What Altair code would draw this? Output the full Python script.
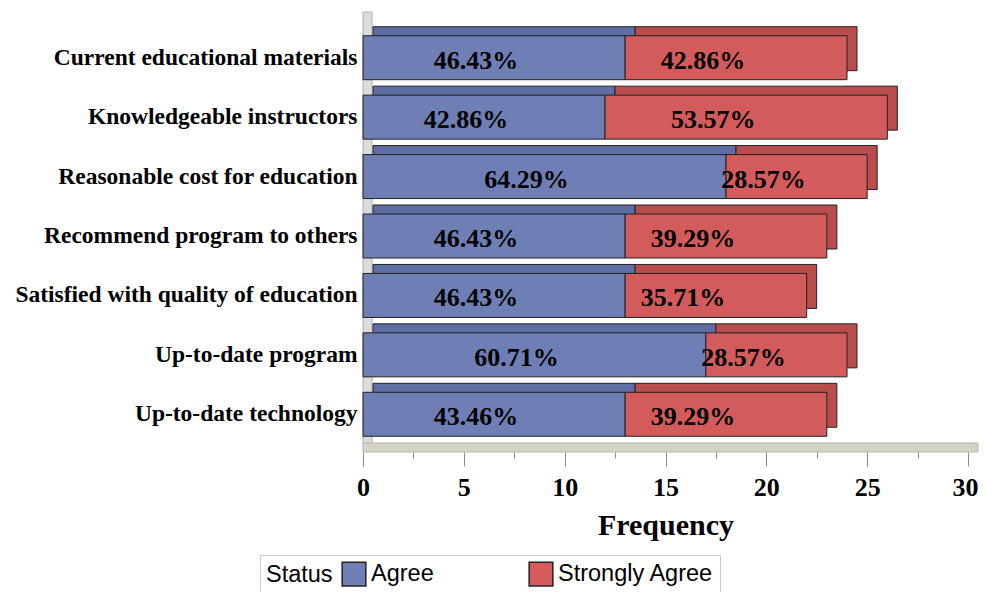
import altair as alt
import pandas as pd

categories = [
    "Current educational materials",
    "Knowledgeable instructors",
    "Reasonable cost for education",
    "Recommend program to others",
    "Satisfied with quality of education",
    "Up-to-date program",
    "Up-to-date technology",
]
agree = [13, 12, 18, 13, 13, 17, 13]
strongly = [11, 14, 7, 10, 9, 7, 10]
agree_pct = ["46.43%", "42.86%", "64.29%", "46.43%", "46.43%", "60.71%", "43.46%"]
strongly_pct = ["42.86%", "53.57%", "28.57%", "39.29%", "35.71%", "28.57%", "39.29%"]
statuses = ["Agree", "Strongly Agree"]
x_ticks = [0, 2.5, 5, 7.5, 10, 12.5, 15, 17.5, 20, 22.5, 25, 27.5, 30]

rows = []
for c, a, s, ap, sp in zip(categories, agree, strongly, agree_pct, strongly_pct):
    rows.append({"cat": c, "status": "Agree", "start": 0, "end": a, "mid": a / 2, "label": ap})
    rows.append({"cat": c, "status": "Strongly Agree", "start": a, "end": a + s, "mid": a + s / 2, "label": sp})
df = pd.DataFrame(rows)

W, H = 605, 416
front_colors = ["#6f7fb6", "#d35b5b"]
back_colors = ["#5e6da4", "#b94c4c"]
serif = "Liberation Serif"

y_enc = alt.Y(
    "cat:N",
    sort=categories,
    scale=alt.Scale(paddingInner=0.26, paddingOuter=0.13),
    axis=alt.Axis(
        title=None, domain=False, ticks=False, labelPadding=6,
        labelFont=serif, labelFontWeight="bold", labelFontSize=23.5,
        labelColor="black", labelLimit=400,
    ),
)
x_scale = alt.Scale(domain=[0, 30], nice=False)

base = alt.Chart(df)

wall = alt.Chart(pd.DataFrame({"a": [0]})).mark_rect(
    color="#dcdcdc", stroke="#b0b0b0", strokeWidth=1
).encode(x=alt.value(0), x2=alt.value(9), y=alt.value(-16), y2=alt.value(H))

floor = alt.Chart(pd.DataFrame({"a": [0]})).mark_rect(
    color="#d5d2c6", stroke="#b8b5aa", strokeWidth=1
).encode(x=alt.value(0), x2=alt.value(W + 10), y=alt.value(H - 1), y2=alt.value(H + 8))

back = base.mark_bar(
    xOffset=10, x2Offset=10, yOffset=-9, y2Offset=-9,
    stroke="#222222", strokeWidth=1,
).encode(
    y=y_enc,
    x=alt.X("start:Q", scale=x_scale),
    x2="end:Q",
    color=alt.Color("status:N", scale=alt.Scale(domain=statuses, range=back_colors), legend=None),
)

front = base.mark_bar(stroke="#222222", strokeWidth=1).encode(
    y=y_enc,
    x=alt.X(
        "start:Q",
        scale=x_scale,
        axis=alt.Axis(
            values=x_ticks,
            title="Frequency",
            titleFont=serif, titleFontSize=30, titleFontWeight="bold",
            titleColor="black", titlePadding=10,
            labelFont=serif, labelFontSize=26, labelFontWeight="bold",
            labelColor="black", labelPadding=8, labelFlush=False,
            labelAlign={"condition": {"test": "datum.value == 30", "value": "right"}, "value": "center"},
            labelOffset={"condition": {"test": "datum.value == 30", "value": 10}, "value": 0},
            labelExpr="datum.value % 5 == 0 ? datum.label : ''",
            domain=False, grid=False, offset=8,
            tickColor="#8a8a8a",
            tickSize={"condition": {"test": "datum.value % 5 == 0", "value": 14}, "value": 6},
        ),
    ),
    x2="end:Q",
    color=alt.Color(
        "status:N",
        scale=alt.Scale(domain=statuses, range=front_colors),
        legend=alt.Legend(
            title="Status", orient="none", legendX=-103, legendY=527,
            direction="horizontal", titleOrient="left",
            titleFont="Liberation Sans", titleFontSize=23.5, titleFontWeight="normal",
            titleColor="black", titlePadding=8,
            labelFont="Liberation Sans", labelFontSize=23.5, labelColor="black",
            symbolType="square", symbolSize=560, symbolStrokeColor="#222222",
            symbolStrokeWidth=1.5, symbolOpacity=1, columnPadding=92,
            strokeColor="#cccccc", fillColor="white", padding=6,
        ),
    ),
)

text_agree = base.transform_filter(alt.datum.status == "Agree").mark_text(
    font=serif, fontSize=26, fontWeight="bold", color="black", dx=-18, dy=3
).encode(y=y_enc, x=alt.X("mid:Q", scale=x_scale), text="label:N")

text_strong = base.transform_filter(alt.datum.status == "Strongly Agree").mark_text(
    font=serif, fontSize=26, fontWeight="bold", color="black", dx=-33, dy=3
).encode(y=y_enc, x=alt.X("mid:Q", scale=x_scale), text="label:N")

chart = alt.layer(wall, floor, back, front, text_agree, text_strong).resolve_scale(
    color="independent"
).properties(
    width=W, height=H,
    autosize=alt.AutoSizeParams(type="none"),
    padding={"left": 355, "top": 20, "right": 11, "bottom": 150},
).configure_view(stroke=None)

chart.save("out.html", embed_options={"renderer": "svg", "actions": False})
